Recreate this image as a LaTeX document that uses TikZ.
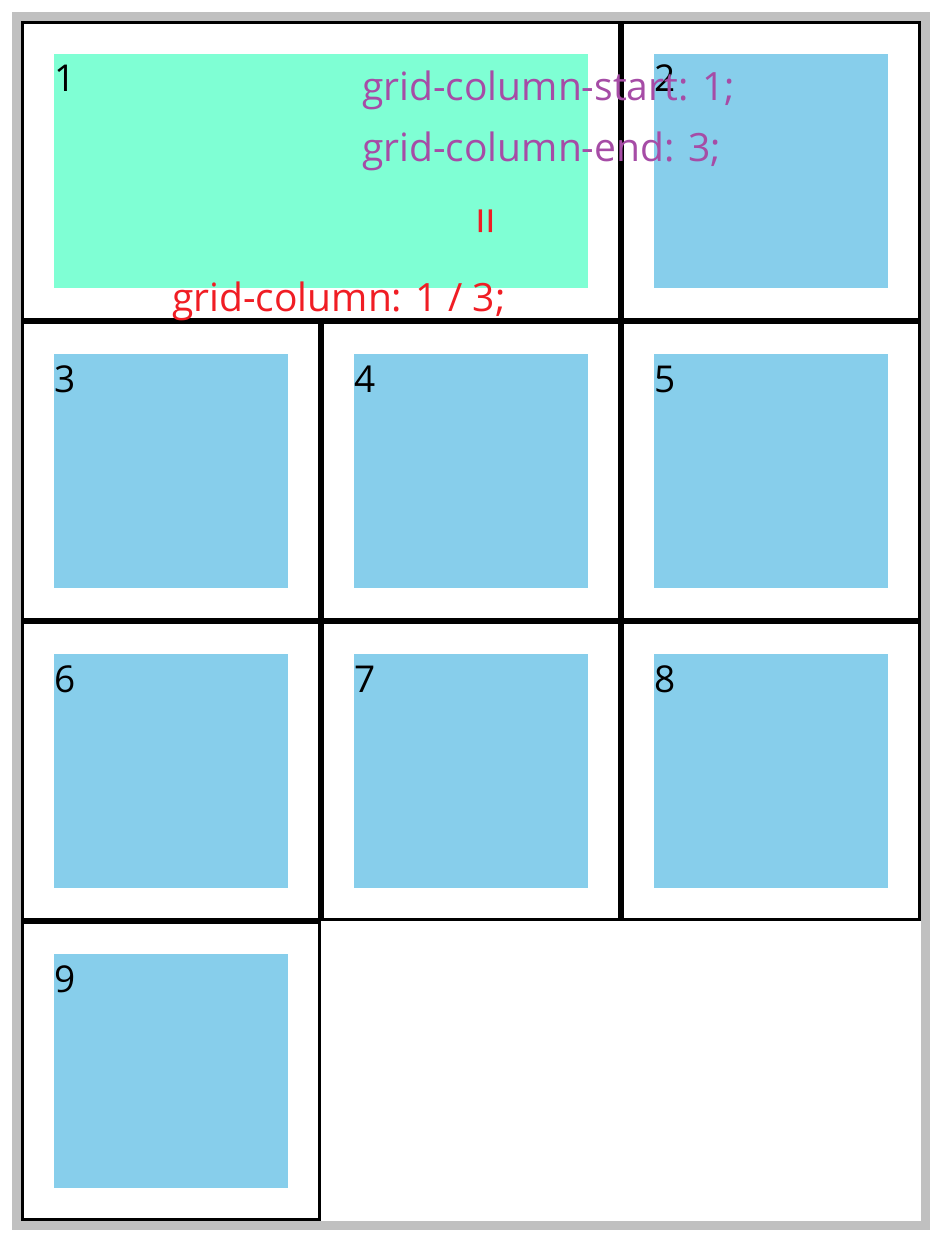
\documentclass[tikz,border=0pt]{standalone}
\usepackage{fontspec}
\setmainfont{Open Sans}
\definecolor{frame}{HTML}{C0C0C0}
\definecolor{aqua}{HTML}{7FFFD4}
\definecolor{sky}{HTML}{87CEEB}
\definecolor{purp}{HTML}{A64CA6}
\definecolor{redt}{HTML}{F01D24}
\tikzset{
  cellbox/.style={draw=black, line width=3pt},
  numlabel/.style={anchor=base west, inner sep=0pt, font=\fontsize{37}{44}\selectfont, text=black},
  purptext/.style={anchor=base west, inner sep=0pt, font=\fontsize{39}{46}\selectfont, text=purp},
  redtext/.style={anchor=base west, inner sep=0pt, font=\fontsize{39}{46}\selectfont, text=redt},
}
\begin{document}
\begin{tikzpicture}[x=1pt,y=-1pt]
\useasboundingbox (0,0) rectangle (942,1244);
\fill[white] (0,0) rectangle (942,1244);
\draw[frame, line width=9pt] (16.5,16.5) rectangle (925.5,1225.5);
% inner boxes
\fill[aqua] (54,54) rectangle (588,288);
\foreach \x/\y in {621/21, 21/321, 321/321, 621/321, 21/621, 321/621, 621/621, 21/921} {
  \fill[sky] (\x+33,\y+33) rectangle (\x+267,\y+267);
}
% cell borders
\draw[cellbox] (22.5,22.5) rectangle (619.5,319.5);
\foreach \x/\y in {621/21, 21/321, 321/321, 621/321, 21/621, 321/621, 621/621, 21/921} {
  \draw[cellbox] (\x+1.5,\y+1.5) rectangle (\x+298.5,\y+298.5);
}
% numbers
\node[numlabel] (n1) at (54,92) {1};
\node[numlabel] (n2) at (654,92) {2};
\node[numlabel] (n3) at (54,392) {3};
\node[numlabel] (n4) at (354,392) {4};
\node[numlabel] (n5) at (654,392) {5};
\node[numlabel] (n6) at (54,692) {6};
\node[numlabel] (n7) at (354,692) {7};
\node[numlabel] (n8) at (654,692) {8};
\node[numlabel] (n9) at (54,992) {9};
% annotations
\node[purptext] (ps) at (362,101) {grid-column-start: 1;};
\node[purptext] (pe) at (362,161) {grid-column-end: 3;};
\node[redtext, anchor=center, rotate=90, font=\fontsize{50}{56}\selectfont] (eq) at (491,221) {=};
\node[redtext] (gc) at (172,311) {grid-column: 1 / 3;};
\end{tikzpicture}
\end{document}
